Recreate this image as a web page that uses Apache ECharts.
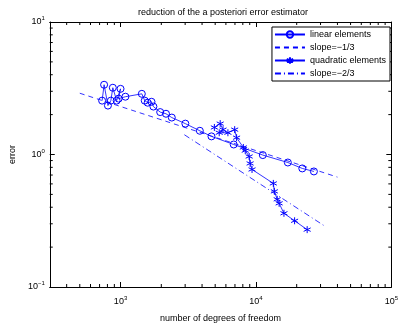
<!DOCTYPE html>
<html>
<head>
<meta charset="utf-8">
<script src="https://cdn.jsdelivr.net/npm/echarts@6/dist/echarts.min.js"></script>
<style>
html, body { margin: 0; padding: 0; background: #fff; }
#chart { width: 401px; height: 328px; }
</style>
</head>
<body>
<div id="chart"></div>
<script>
// values
const linearDof = [731, 756, 807, 848, 877, 936, 1000, 968, 1086, 1436, 1509, 1585, 1693, 1749, 1962, 2166, 2391, 3011, 3852, 4694, 6850, 11240, 17200, 22000, 26800];
const linearErr = [2.55, 3.36, 2.34, 2.55, 3.19, 2.55, 3.13, 2.64, 2.73, 2.87, 2.55, 2.46, 2.50, 2.30, 2.09, 2.03, 1.90, 1.71, 1.51, 1.37, 1.19, 0.99, 0.87, 0.785, 0.745];
const quadDof = [4932, 5445, 5715, 5357, 6210, 6966, 7197, 8072, 8340, 8913, 9057, 9360, 13440, 13680, 14360, 14840, 16100, 19300, 23900];
const quadErr = [1.60, 1.71, 1.54, 1.46, 1.46, 1.54, 1.34, 1.13, 1.07, 0.966, 0.856, 0.771, 0.605, 0.527, 0.459, 0.428, 0.360, 0.316, 0.271];
const slope1Dof = [500, 40000];
const slope1Err = [2.90, 0.675];
const slope2Dof = [2960, 31600];
const slope2Err = [1.41, 0.292];
const xMinorTicks = [400, 500, 600, 700, 800, 900, 2000, 3000, 4000, 5000, 6000, 7000, 8000, 9000, 20000, 30000, 40000, 50000, 60000, 70000, 80000, 90000];
const yMinorTicks = [0.2, 0.3, 0.4, 0.5, 0.6, 0.7, 0.8, 0.9, 2, 3, 4, 5, 6, 7, 8, 9];

const FONT = 'Liberation Sans';
const BLUE = '#0000ff';
const star = 'path://M0,-5L0,5M-4.33,-2.5L4.33,2.5M-4.33,2.5L4.33,-2.5';

function powLabel(v) {
  const l = Math.log10(v);
  const e = Math.round(l);
  if (Math.abs(l - e) > 1e-6) return '';
  return '10{s|' + (e < 0 ? '\u2212' + (-e) : e) + '}';
}
const supRich = {
  s: { fontSize: 6, fontFamily: FONT, color: '#000', verticalAlign: 'bottom', padding: [0, 0, 7, 0] }
};

function pairs(xs, ys) { return xs.map((x, i) => [x, ys[i]]); }

const chart = echarts.init(document.getElementById('chart'));
const xBase = {
  type: 'log', logBase: 10, min: 300, max: 100000,
  axisLine: { lineStyle: { color: '#000', width: 1 } },
  axisTick: { inside: true, length: 5, lineStyle: { color: '#000' } },
  splitLine: { show: false }
};
const yBase = {
  type: 'log', logBase: 10, min: 0.1, max: 10,
  axisLine: { lineStyle: { color: '#000', width: 1 } },
  axisTick: { inside: true, length: 5, lineStyle: { color: '#000' } },
  splitLine: { show: false }
};
const hidden = { opacity: 0 };

chart.setOption({
  animation: false,
  backgroundColor: '#fff',
  title: {
    text: 'reduction of the a posteriori error estimator',
    left: 218, top: 3, textAlign: 'center',
    textStyle: { fontFamily: FONT, fontSize: 9, fontWeight: 'normal', color: '#000' }
  },
  grid: { left: 42, right: 6, top: 22, bottom: 40 },
  legend: {
    orient: 'vertical', right: 11, top: 27,
    itemWidth: 30, itemHeight: 8, itemGap: 4,
    padding: [3, 4, 3, 2],
    borderColor: '#000', borderWidth: 1, backgroundColor: '#fff',
    textStyle: { fontFamily: FONT, fontSize: 9, color: '#000' },
    data: [
      { name: 'linear elements' },
      { name: 'slope=\u22121/3', itemStyle: hidden },
      { name: 'quadratic elements' },
      { name: 'slope=\u22122/3', itemStyle: hidden }
    ]
  },
  xAxis: [
    Object.assign({}, xBase, {
      position: 'bottom',
      name: 'number of degrees of freedom', nameLocation: 'middle', nameGap: 27,
      nameTextStyle: { fontFamily: FONT, fontSize: 9, color: '#000' },
      axisLabel: { margin: 8, fontFamily: FONT, fontSize: 9, color: '#000', formatter: powLabel, rich: supRich, showMinLabel: false }
    }),
    Object.assign({}, xBase, { position: 'top', axisLabel: { show: false } })
  ],
  yAxis: [
    Object.assign({}, yBase, {
      position: 'left',
      name: 'error', nameLocation: 'middle', nameGap: 28,
      nameTextStyle: { fontFamily: FONT, fontSize: 9, color: '#000' },
      axisLabel: { margin: 5, fontFamily: FONT, fontSize: 9, color: '#000', formatter: powLabel, rich: supRich }
    }),
    Object.assign({}, yBase, { position: 'right', axisLabel: { show: false } })
  ],
  series: [
    {
      name: 'linear elements', type: 'line', data: pairs(linearDof, linearErr),
      symbol: 'circle', symbolSize: 7,
      itemStyle: { color: 'transparent', borderColor: BLUE, borderWidth: 1 },
      lineStyle: { color: BLUE, width: 0.8 }
    },
    {
      name: 'slope=\u22121/3', type: 'line', data: pairs(slope1Dof, slope1Err),
      symbol: 'none', itemStyle: { color: BLUE },
      lineStyle: { color: BLUE, width: 0.8, type: [5, 4] }
    },
    {
      name: 'quadratic elements', type: 'line', data: pairs(quadDof, quadErr),
      symbol: star, symbolSize: 7,
      itemStyle: { color: 'transparent', borderColor: BLUE, borderWidth: 1 },
      lineStyle: { color: BLUE, width: 0.8 }
    },
    {
      name: 'slope=\u22122/3', type: 'line', data: pairs(slope2Dof, slope2Err),
      symbol: 'none', itemStyle: { color: BLUE },
      lineStyle: { color: BLUE, width: 0.8, type: [6, 3, 1, 3] }
    },
    {
      type: 'custom', silent: true, data: xMinorTicks.map(v => [v, 1]),
      renderItem: function (params, api) {
        const x = api.coord([api.value(0), 1])[0];
        const cs = params.coordSys;
        const yb = cs.y + cs.height;
        return { type: 'group', children: [
          { type: 'line', shape: { x1: x, y1: yb, x2: x, y2: yb - 3 }, style: { stroke: '#000', lineWidth: 1 } },
          { type: 'line', shape: { x1: x, y1: cs.y, x2: x, y2: cs.y + 3 }, style: { stroke: '#000', lineWidth: 1 } }
        ] };
      }
    },
    {
      type: 'custom', silent: true, data: yMinorTicks.map(v => [1000, v]),
      renderItem: function (params, api) {
        const y = api.coord([1000, api.value(1)])[1];
        const cs = params.coordSys;
        const xr = cs.x + cs.width;
        return { type: 'group', children: [
          { type: 'line', shape: { x1: cs.x, y1: y, x2: cs.x + 3, y2: y }, style: { stroke: '#000', lineWidth: 1 } },
          { type: 'line', shape: { x1: xr, y1: y, x2: xr - 3, y2: y }, style: { stroke: '#000', lineWidth: 1 } }
        ] };
      }
    }
  ]
});
</script>
</body>
</html>
